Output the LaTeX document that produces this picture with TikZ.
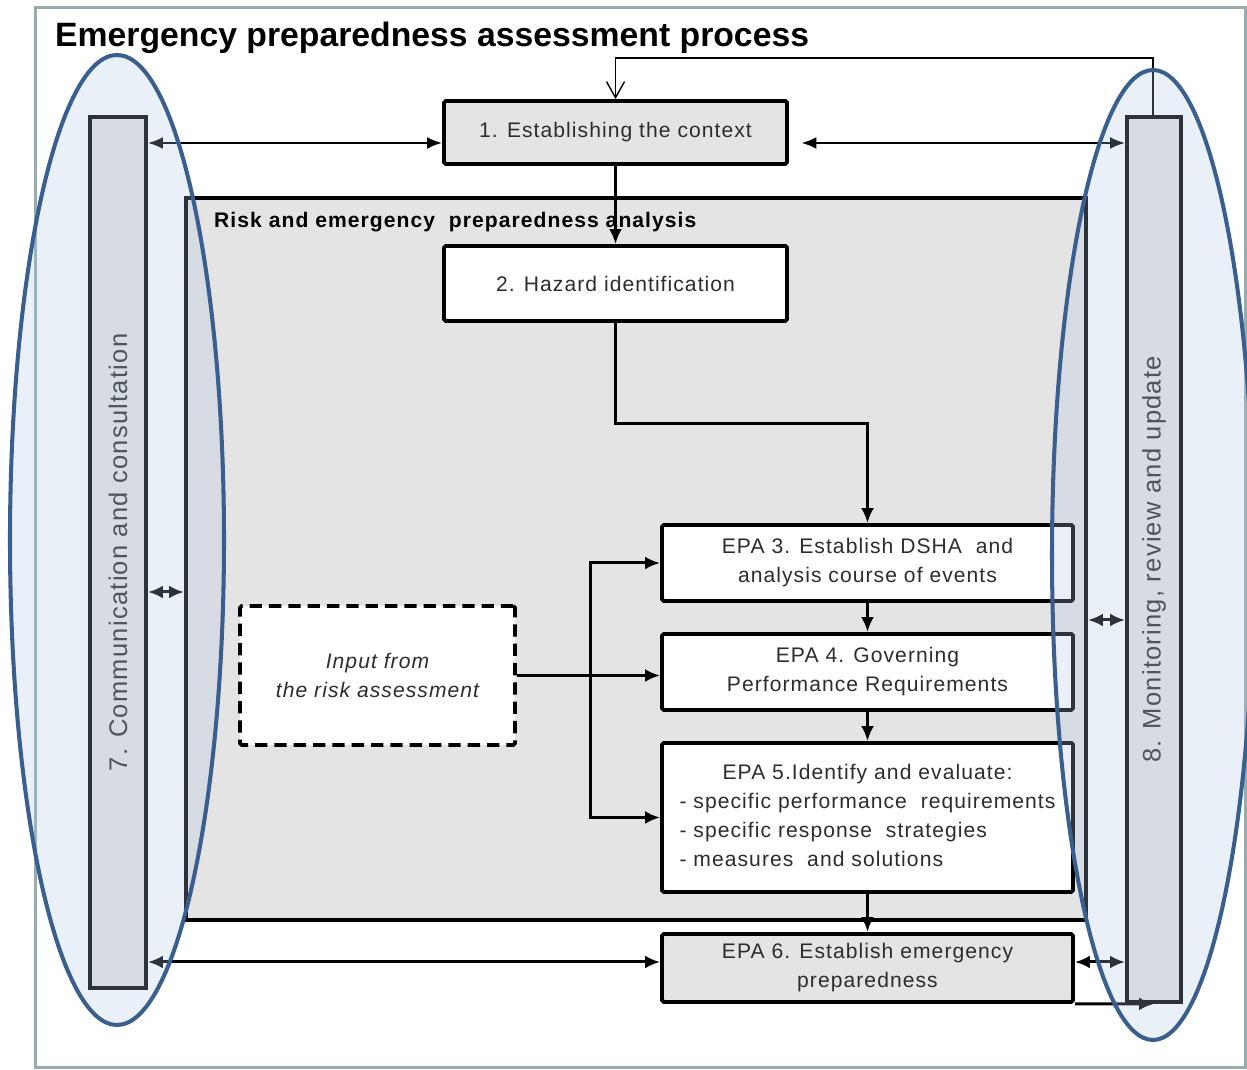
\documentclass[tikz,border=0pt]{standalone}
\usepackage{fontspec}
\setmainfont{Liberation Sans}
\newfontfamily\spaced[LetterSpace=5]{Liberation Sans}
\usepackage{tikz}
\usetikzlibrary{arrows.meta, positioning, calc, shapes.geometric}

\definecolor{boxgray}{RGB}{228,228,228}
\definecolor{framegray}{RGB}{152,172,174}
\definecolor{ovalfill}{RGB}{174,197,228}
\definecolor{ovalline}{RGB}{58,95,142}
\definecolor{textgray}{RGB}{45,45,45}

\begin{document}
\begin{tikzpicture}[
            box/.style={rectangle, draw=black, line width=2.2pt, rounded corners=1pt, align=center, text=textgray, font=\spaced\fontsize{12}{16.5}\selectfont},
            graybox/.style={box, fill=boxgray},
            whitebox/.style={box, fill=white},
            bar/.style={rectangle, draw=black, line width=2.2pt, fill=boxgray},
            bartext/.style={rotate=90, text=textgray, font=\spaced\fontsize{14.5}{18}\selectfont},
            oval/.style={ellipse, draw=ovalline, line width=2.3pt, fill=ovalfill, fill opacity=0.26, draw opacity=1},
            arrow/.style={-{Latex[length=3mm,width=2.6mm]}, line width=1.7pt},
            dblarrow/.style={{Latex[length=3mm,width=2.6mm]}-{Latex[length=3mm,width=2.6mm]}, line width=1.7pt},
            thinarrow/.style={{Latex[length=3mm,width=2.4mm]}-{Latex[length=3mm,width=2.4mm]}, line width=1.3pt}
        ]
\useasboundingbox (0,0) rectangle (24.94,21.4);

% Outer frame and title
            \draw[framegray, line width=0.06cm] (0.70,0.04) rectangle (24.90,21.24);
            \node[anchor=west, font=\fontsize{19.2}{22}\selectfont\bfseries] (title) at (0.98,20.64) {Emergency preparedness assessment process};

% Side bars
            \node[bar, minimum width=1.12cm, minimum height=17.42cm] (lbar) at (2.36,10.35) {};
            \node[bartext] at (lbar.center) {7. Communication and consultation};
            \node[bar, minimum width=1.08cm, minimum height=17.7cm] (rbar) at (23.08,10.21) {};
            \node[bartext] at (rbar.center) {8. Monitoring, review and update};

% Context
            \node[graybox, minimum width=6.86cm, minimum height=1.26cm] (context) at (12.31,18.75) {1. Establishing the context};

% Analysis block
            \node[rectangle, draw=black, line width=2.2pt, fill=boxgray, minimum width=18cm, minimum height=14.44cm] (analysis) at (12.72,10.22) {};
            \node[anchor=west, font=\spaced\fontsize{12}{14}\selectfont\bfseries] (analysislabel) at (4.16,16.96) {Risk and emergency \ preparedness analysis};

            \node[whitebox, minimum width=6.86cm, minimum height=1.5cm] (hazard) at (12.31,15.73) {2. Hazard identification};
            \node[whitebox, minimum width=8.22cm, minimum height=1.52cm] (epa3) at (17.35,10.14) {EPA 3. Establish DSHA \ and\\analysis course of events};
            \node[whitebox, minimum width=8.22cm, minimum height=1.52cm] (epa4) at (17.35,7.96) {EPA 4. Governing\\Performance Requirements};
            \node[whitebox, minimum width=8.22cm, minimum height=2.98cm] (epa5) at (17.35,5.05) {\begin{tabular}{@{}l@{}}\multicolumn{1}{c}{EPA 5.Identify and evaluate:}\\- specific performance \ requirements\\- specific response \ strategies\\- measures \ and solutions\end{tabular}};
            \node[whitebox, dashed, dash pattern=on 7pt off 4pt, minimum width=5.5cm, minimum height=2.78cm, font=\spaced\fontsize{12}{16.5}\selectfont\itshape] (input) at (7.55,7.89) {Input from\\the risk assessment};

% Emergency preparedness
            \node[graybox, minimum width=8.22cm, minimum height=1.36cm] (epa6) at (17.35,2.04) {EPA 6. Establish emergency\\preparedness};

% Arrows
            \coordinate (loop) at (23.06,20.24);
            \draw[line width=0.8pt, -{Straight Barb[length=3.2mm,width=3.6mm]}] (rbar.north -| loop) -- (loop) -| (context.north);
            \draw[thinarrow] (lbar.east |- 0,18.54) -- (context.west |- 0,18.54);
            \draw[thinarrow, shorten <=2.5mm] (context.east |- 0,18.54) -- (rbar.west |- 0,18.54);
            \draw[arrow] (context.south) -- (hazard.north);
            \draw[arrow] (hazard.south) -- ++(0,-2.02) -| (epa3.north);
            \draw[arrow] (epa3.south) -- (epa4.north);
            \draw[arrow] (epa4.south) -- (epa5.north);
            \draw[arrow] (epa5.south) -- (epa6.north);
            \coordinate (split) at (11.8,7.89);
            \draw[arrow] (input.east) -- (input.east -| epa4.west);
            \draw[arrow] (split) |- (epa3.west);
            \draw[arrow] (split) |- (epa5.west);
            \draw[dblarrow] (lbar.east |- 0,9.56) -- (analysis.west |- 0,9.56);
            \draw[dblarrow] (analysis.east |- 0,9.0) -- (rbar.west |- 0,9.0);
            \draw[dblarrow] (lbar.east |- 0,2.16) -- (epa6.west |- 0,2.16);
            \draw[dblarrow] (epa6.east |- 0,2.16) -- (rbar.west |- 0,2.16);
            \draw[arrow] (epa6.south east) -- (rbar.south);

% Highlight ovals
            \node[oval, minimum width=4.28cm, minimum height=19.4cm] (loval) at (2.34,10.6) {};
            \node[oval, minimum width=4.04cm, minimum height=19.4cm] (roval) at (23.06,10.3) {};

        \end{tikzpicture}
\end{document}
